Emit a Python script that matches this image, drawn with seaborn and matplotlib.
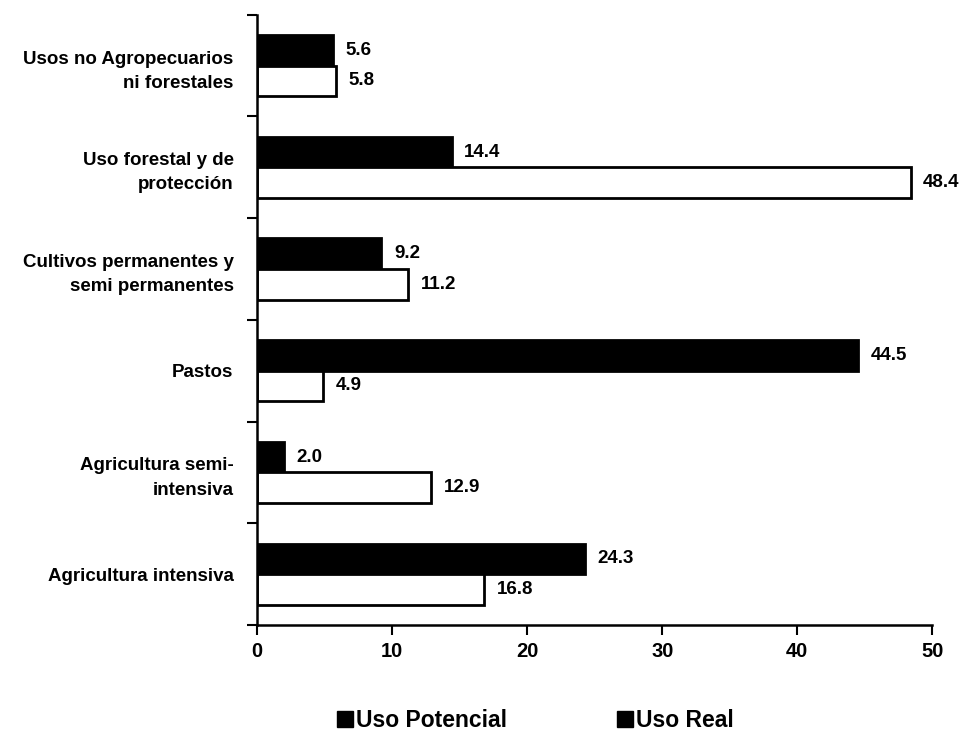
import matplotlib
matplotlib.use("Agg")
import matplotlib.pyplot as plt
import matplotlib.patches as mpatches
import seaborn as sns
import pandas as pd
import numpy as np

categories = [
    "Usos no Agropecuarios\nni forestales",
    "Uso forestal y de\nprotección",
    "Cultivos permanentes y\nsemi permanentes",
    "Pastos",
    "Agricultura semi-\nintensiva",
    "Agricultura intensiva",
]
uso_real = [5.6, 14.4, 9.2, 44.5, 2.0, 24.3]
uso_potencial = [5.8, 48.4, 11.2, 4.9, 12.9, 16.8]
series_names = ["Uso Real", "Uso Potencial"]
legend_order = ["Uso Potencial", "Uso Real"]
x_ticks = [0, 10, 20, 30, 40, 50]

df = pd.DataFrame({
    "categoria": categories * 2,
    "valor": uso_real + uso_potencial,
    "serie": [series_names[0]] * len(categories) + [series_names[1]] * len(categories),
})

sns.set_theme(style="ticks")
plt.rcParams["font.family"] = ["Liberation Sans", "DejaVu Sans"]
plt.rcParams["font.weight"] = "bold"
plt.rcParams["text.color"] = "black"
plt.rcParams["xtick.color"] = "black"
plt.rcParams["ytick.color"] = "black"
plt.rcParams["xtick.labelcolor"] = "black"
plt.rcParams["ytick.labelcolor"] = "black"

fig = plt.figure(figsize=(9.67, 7.37), dpi=100)
ax = fig.add_axes([0.266, 0.152, 0.698, 0.828])

sns.barplot(
    data=df, y="categoria", x="valor", hue="serie",
    hue_order=series_names, order=categories, orient="h",
    palette={"Uso Real": "black", "Uso Potencial": "white"},
    edgecolor="black", linewidth=2, width=0.6, ax=ax, legend=False,
)

for cont in ax.containers:
    ax.bar_label(cont, fmt="%.1f", padding=9, fontsize=13.5, fontweight="bold", color="black")

ax.set_xlim(0, 50)
ax.set_ylim(5.5, -0.5)
ax.set_xticks(x_ticks)
ax.set_xticklabels([str(t) for t in x_ticks], fontsize=14.5, fontweight="bold", color="black")
ax.set_yticks(range(len(categories)))
ax.set_yticklabels(categories, fontsize=13.5, fontweight="bold", linespacing=1.55, color="black")
ax.set_yticks(np.arange(-0.5, len(categories)), minor=True)
ax.tick_params(axis="y", which="major", length=0, pad=17)
ax.tick_params(axis="y", which="minor", length=7, width=1.5, color="black", direction="out")
ax.tick_params(axis="x", which="major", length=7, width=1.5, color="black", direction="out", pad=5)
ax.set_xlabel("")
ax.set_ylabel("")
for s in ["top", "right"]:
    ax.spines[s].set_visible(False)
for s in ["left", "bottom"]:
    ax.spines[s].set_linewidth(1.8)
    ax.spines[s].set_color("black")

handles = [mpatches.Patch(facecolor="black", edgecolor="black", label=n) for n in legend_order]
fig.legend(
    handles=handles, loc="center left", bbox_to_anchor=(0.348, 0.022), ncol=2,
    frameon=False, handlelength=0.7, handleheight=0.7, handletextpad=0.15,
    columnspacing=4.8, borderpad=0, borderaxespad=0,
    prop={"size": 16.5, "weight": "bold"},
)

fig.savefig("out.png", dpi=100)
